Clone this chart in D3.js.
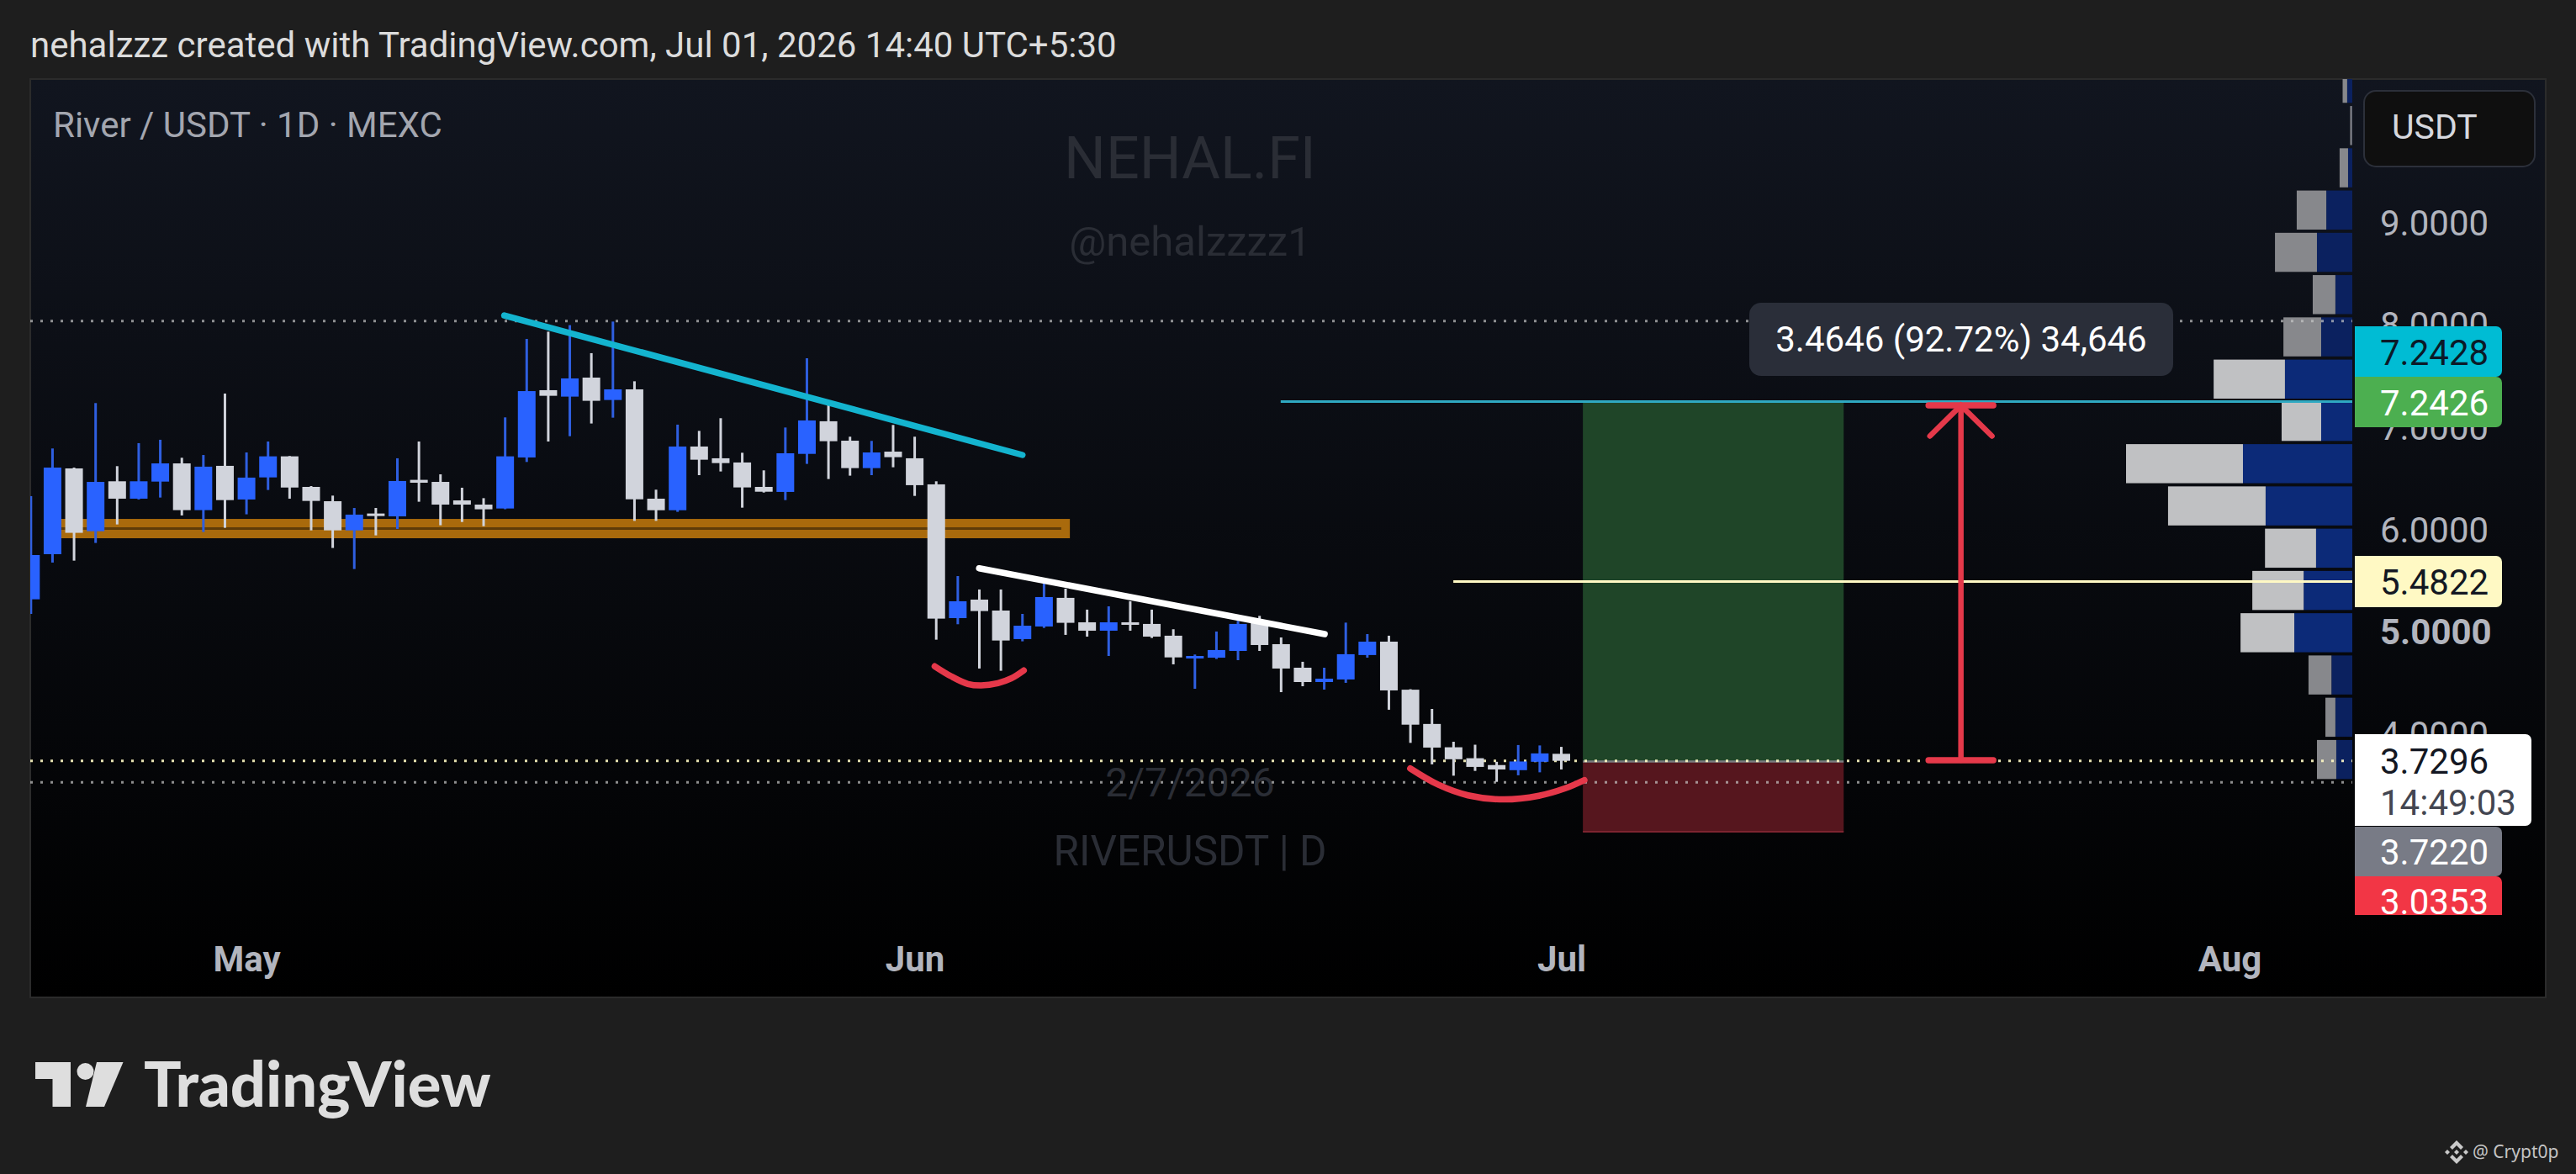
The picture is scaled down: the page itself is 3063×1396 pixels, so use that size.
<!DOCTYPE html>
<html><head><meta charset="utf-8">
<script src="https://cdnjs.cloudflare.com/ajax/libs/d3/7.8.5/d3.min.js"></script>
<style>html,body{margin:0;padding:0;background:#1e1e1e;overflow:hidden}svg{font-family:Roboto,sans-serif}</style>
</head><body><svg id="c" width="3063" height="1396"></svg>
<script>
// daily candles, index 0 = 21 Apr 2026
const opens=[5.309,5.750,6.589,5.975,6.463,6.293,6.460,6.638,6.181,6.614,6.285,6.501,6.707,6.408,6.268,5.983,6.148,6.120,6.477,6.457,6.276,6.235,6.197,6.696,7.354,7.291,7.477,7.258,7.362,6.293,6.180,6.803,6.688,6.647,6.408,6.359,6.731,7.050,6.860,6.592,6.753,6.688,6.433,5.125,5.306,5.199,4.920,5.043,5.323,5.084,5.002,5.084,5.068,4.953,4.730,4.738,4.804,5.076,4.870,4.640,4.500,4.525,4.764,4.895,4.425,4.090,3.862,3.755,3.688,3.638,3.720,3.798];
const highs=[6.318,6.784,6.597,7.228,6.611,6.836,6.869,6.693,6.720,7.321,6.745,6.852,6.710,6.416,6.323,6.202,6.202,6.688,6.852,6.531,6.400,6.298,7.088,7.855,7.926,7.990,7.716,8.025,7.441,6.381,7.017,6.956,7.080,6.742,6.570,6.989,7.666,7.217,6.899,6.858,7.014,6.899,6.463,5.536,5.405,5.405,5.166,5.476,5.413,5.208,5.240,5.290,5.208,5.016,4.769,4.994,5.098,5.147,4.936,4.698,4.640,5.081,4.969,4.953,4.430,4.237,3.916,3.887,3.720,3.884,3.880,3.866];
const lows=[5.166,5.668,5.687,5.860,6.041,6.285,6.304,6.129,5.967,6.008,6.140,6.378,6.293,5.983,5.811,5.605,5.934,5.997,6.263,6.033,6.065,6.024,6.190,6.652,6.852,6.904,7.028,7.085,6.076,6.076,6.164,6.523,6.559,6.205,6.353,6.279,6.633,6.485,6.518,6.523,6.600,6.320,4.914,5.065,4.632,4.610,4.898,5.029,4.961,4.944,4.755,5.002,4.931,4.673,4.434,4.725,4.714,4.804,4.401,4.459,4.426,4.492,4.738,4.229,3.905,3.695,3.584,3.631,3.524,3.588,3.617,3.645];
const closes=[5.742,6.597,5.959,6.457,6.293,6.463,6.638,6.181,6.606,6.279,6.499,6.707,6.402,6.271,5.983,6.137,6.123,6.466,6.449,6.235,6.235,6.189,6.707,7.345,7.299,7.469,7.250,7.362,6.287,6.180,6.803,6.674,6.641,6.403,6.361,6.737,7.058,6.855,6.592,6.745,6.699,6.425,5.120,5.290,5.194,4.906,5.051,5.331,5.079,5.002,5.084,5.062,4.944,4.741,4.755,4.813,5.068,4.862,4.632,4.500,4.533,4.772,4.895,4.418,4.083,3.859,3.745,3.670,3.645,3.723,3.802,3.7296];
// visible-range volume profile, bottom bin first
const volUp=[53,56,69,192,161,120,287,362,103,223,103,56,117,86,14,1,17];
const volDown=[64,33,76,178,170,169,323,387,131,236,125,75,139,98,28,6,15];
const volBinStart=3.52, volBinSize=0.4133, valueAreaBins=[3,4,5,6,7,8,9];
// axes
const priceTicks=[9,8,7,6,5,4];
const monthTicks=[[10,"May"],[41,"Jun"],[71,"Jul"],[102,"Aug"]];
// drawings, as [day index, price]
const cyanTrend=[[21.96,8.0855],[46.0,6.7204]];
const whiteTrend=[[43.99,5.6127],[60.02,4.9687]];
const redArcA=[[41.93,4.654],[42.70,4.555],[43.47,4.481],[44.09,4.467],[44.86,4.489],[45.48,4.535],[46.06,4.613]];
const redArcB=[[63.99,3.655],[65.30,3.495],[66.67,3.392],[68.31,3.352],[69.96,3.388],[71.19,3.461],[72.07,3.541]];
const zoneTop=6.095, zoneMid=6.001, zoneBottom=5.906, zoneFrom=1.35, zoneTo=48.2, zoneMidTo=47.8;
const rangeHigh=8.03, rangeLow=3.519, lastPrice=3.7296;
const targetPrice=7.2426, tpPrice=7.2428, entryPrice=5.4822, stopPrice=3.0353, basePrice=3.722;
const targetFrom=57.98, entryFrom=65.99, boxFrom=72.0, boxTo=84.1;
const arrowDay=89.54, arrowTop=7.205, arrowBottom=3.735;
const measureText="3.4646 (92.72%) 34,646";
const titleText="nehalzzz created with TradingView.com, Jul 01, 2026 14:40 UTC+5:30";
const legendText="River / USDT · 1D · MEXC";

const W=3063,H=1396,L=36,R=3027,T=94,B=1186,paneR=2797,paneB=1088;
const x=d3.scaleLinear().domain([0,102]).range([36.8,2651]);
const y=d3.scaleLinear().domain([7.2426,3.0353]).range([477.5,989.1]);
const vol=d3.scaleLinear().domain([0,749]).range([0,269]);
const svg=d3.select("#c");
const defs=svg.append("defs");
const g=defs.append("linearGradient").attr("id","bg").attr("x1",0).attr("x2",0).attr("y1",0).attr("y2",1);
g.append("stop").attr("offset",0).attr("stop-color","#11151f");
g.append("stop").attr("offset",1).attr("stop-color","#000000");
defs.append("clipPath").attr("id","pane").append("rect").attr("x",L).attr("y",T).attr("width",paneR-L).attr("height",paneB-T);
defs.append("clipPath").attr("id","lbl").append("rect").attr("x",paneR).attr("y",T).attr("width",R-paneR).attr("height",paneB-T);

svg.append("rect").attr("width",W).attr("height",H).attr("fill","#1e1e1e");
svg.append("text").attr("x",36).attr("y",53).attr("dy",".35em").attr("font-size",42).attr("fill","#dcdcdc").text(titleText);
svg.append("rect").attr("x",L).attr("y",T).attr("width",R-L).attr("height",B-T).attr("fill","url(#bg)").attr("stroke","#2b2b2b").attr("stroke-width",2);

// watermarks
const wm=[["NEHAL.FI",187,70],["@nehalzzzz1",287,49],["2/7/2026",930,48],["RIVERUSDT | D",1012,49.5]];
svg.append("g").selectAll("text").data(wm).join("text").attr("x",1415).attr("y",d=>d[1]).attr("dy",".35em")
 .attr("text-anchor","middle").attr("font-size",d=>d[2]).attr("fill","#2a2d35").text(d=>d[0]);
svg.append("text").attr("x",63).attr("y",148).attr("dy",".35em").attr("font-size",42).attr("fill","#a3a6af").text(legendText);

const pane=svg.append("g").attr("clip-path","url(#pane)");
const lineGen=d3.line().x(d=>x(d[0])).y(d=>y(d[1]));

// position box
pane.append("rect").attr("x",x(boxFrom)).attr("width",x(boxTo)-x(boxFrom)).attr("y",y(targetPrice)).attr("height",y(basePrice)-y(targetPrice)).attr("fill","#1f4528");
pane.append("rect").attr("x",x(boxFrom)).attr("width",x(boxTo)-x(boxFrom)).attr("y",y(basePrice)).attr("height",y(stopPrice)-y(basePrice)).attr("fill","#56161e");
pane.append("line").attr("x1",x(boxFrom)).attr("x2",x(boxTo)).attr("y1",y(basePrice)).attr("y2",y(basePrice)).attr("stroke","#7a7d80").attr("stroke-width",2.5);
pane.append("line").attr("x1",x(boxFrom)).attr("x2",x(boxTo)).attr("y1",y(stopPrice)).attr("y2",y(stopPrice)).attr("stroke","#7d2430").attr("stroke-width",2);

// volume profile
const vp=pane.append("g");
const rowTop=i=>y(volBinStart+(i+1)*volBinSize), rowH=i=>y(volBinStart+i*volBinSize)-rowTop(i)-3.8;
vp.selectAll("rect.u").data(volUp).join("rect").attr("class","u").attr("x",d=>paneR-vol(d)).attr("width",d=>vol(d))
 .attr("y",(d,i)=>rowTop(i)).attr("height",(d,i)=>rowH(i)).attr("fill",(d,i)=>valueAreaBins.includes(i)?"#0c2a78":"#0b215f");
vp.selectAll("rect.d").data(volDown).join("rect").attr("class","d").attr("x",(d,i)=>paneR-vol(volUp[i])-vol(d)).attr("width",d=>vol(d))
 .attr("y",(d,i)=>rowTop(i)).attr("height",(d,i)=>rowH(i)).attr("fill",(d,i)=>valueAreaBins.includes(i)?"#c0c1c3":"#87888c");

// dotted range and last-price lines
[[rangeHigh,"#c8c8c8",.7],[rangeLow,"#c8c8c8",.7],[lastPrice,"#fff9c4",.9]].forEach(([p,c,o])=>{
 pane.append("line").attr("x1",L).attr("x2",paneR).attr("y1",y(p)).attr("y2",y(p)).attr("stroke",c).attr("stroke-width",3).attr("stroke-dasharray","3 9").attr("opacity",o);
});

// zone
pane.append("rect").attr("x",x(zoneFrom)).attr("width",x(zoneTo)-x(zoneFrom)).attr("y",y(zoneTop)).attr("height",y(zoneBottom)-y(zoneTop)).attr("fill","#a96a0c");
pane.append("line").attr("x1",x(zoneFrom)).attr("x2",x(zoneMidTo)).attr("y1",y(zoneMid)).attr("y2",y(zoneMid)).attr("stroke","#5e3b08").attr("stroke-width",3);

// candles
const idx=d3.range(opens.length), col=i=>closes[i]>=opens[i]?"#2962ff":"#d1d4dc";
pane.append("g").selectAll("line").data(idx).join("line").attr("x1",i=>x(i)).attr("x2",i=>x(i)).attr("y1",i=>y(highs[i])).attr("y2",i=>y(lows[i]))
 .attr("stroke",i=>closes[i]>=opens[i]?"#2f5fe0":"#d1d4dc").attr("stroke-width",3);
pane.append("g").selectAll("rect").data(idx).join("rect").attr("x",i=>x(i)-10.5).attr("width",21)
 .attr("y",i=>y(Math.max(opens[i],closes[i]))).attr("height",i=>Math.max(3,Math.abs(y(opens[i])-y(closes[i])))).attr("fill",col);

// trend lines and arcs
pane.append("path").attr("d",lineGen(cyanTrend)).attr("stroke","#14b4cf").attr("stroke-width",7.5).attr("stroke-linecap","round").attr("fill","none");
pane.append("path").attr("d",lineGen(whiteTrend)).attr("stroke","#ffffff").attr("stroke-width",7.5).attr("stroke-linecap","round").attr("fill","none");
const arc=d3.line().x(d=>x(d[0])).y(d=>y(d[1])).curve(d3.curveCatmullRom);
[redArcA,redArcB].forEach(a=>pane.append("path").attr("d",arc(a)).attr("stroke","#e5384a").attr("stroke-width",7.5).attr("stroke-linecap","round").attr("fill","none"));

// target and entry lines
pane.append("line").attr("x1",x(targetFrom)).attr("x2",paneR).attr("y1",y(targetPrice)).attr("y2",y(targetPrice)).attr("stroke","#2fa9c2").attr("stroke-width",3);
pane.append("line").attr("x1",x(entryFrom)).attr("x2",paneR).attr("y1",y(entryPrice)).attr("y2",y(entryPrice)).attr("stroke","#fff9c4").attr("stroke-width",3);

// measure arrow
const ar=pane.append("g").attr("stroke","#e5394a").attr("fill","none").attr("stroke-linecap","round");
ar.append("line").attr("x1",x(arrowDay)).attr("x2",x(arrowDay)).attr("y1",y(arrowTop)).attr("y2",y(arrowBottom)).attr("stroke-width",6.5);
[arrowTop,arrowBottom].forEach(p=>ar.append("line").attr("x1",x(arrowDay-1.5)).attr("x2",x(arrowDay+1.5)).attr("y1",y(p)).attr("y2",y(p)).attr("stroke-width",7.5));
ar.append("path").attr("stroke-width",6.5).attr("d",lineGen([[arrowDay-1.44,arrowTop-0.30],[arrowDay,arrowTop],[arrowDay+1.44,arrowTop-0.30]]));
pane.append("rect").attr("x",2080).attr("y",360).attr("width",504).attr("height",87).attr("rx",14).attr("fill","#2a2e39");
pane.append("text").attr("x",2332).attr("y",403).attr("dy",".35em").attr("text-anchor","middle").attr("font-size",42).attr("fill","#ffffff").text(measureText);

// axes
const ya=d3.axisRight(y).tickValues(priceTicks).tickSize(0).tickPadding(33).tickFormat(d3.format(".4f"));
const yg=svg.append("g").attr("transform",`translate(${paneR},2)`).call(ya);
yg.select(".domain").remove();
yg.selectAll("text").attr("font-size",42).attr("fill","#b2b5be").attr("font-family","Roboto").attr("font-weight",d=>d===5?700:400);
const xa=d3.axisBottom(x).tickValues(monthTicks.map(d=>d[0])).tickSize(0).tickPadding(0).tickFormat(d=>monthTicks.find(m=>m[0]===d)[1]);
const xg=svg.append("g").attr("transform","translate(0,1140)").call(xa);
xg.select(".domain").remove();
xg.selectAll("text").attr("font-size",42).attr("fill","#b2b5be").attr("font-family","Roboto").attr("font-weight",700).attr("y",0).attr("dy",".35em");

// USDT selector
svg.append("rect").attr("x",2811).attr("y",108).attr("width",203).attr("height",90).attr("rx",14).attr("fill","#0f0f0f").attr("stroke","#2c303a").attr("stroke-width",2);
svg.append("text").attr("x",2844).attr("y",151).attr("dy",".35em").attr("font-size",41).attr("fill","#d6d8de").text("USDT");

// price labels
const labels=[[tpPrice,"#00bcd4","#0b1a28",388,448],[targetPrice,"#4caf50","#ffffff",448,508],[entryPrice,"#fff9c4","#131722",661,722],[basePrice,"#787b86","#ffffff",983,1042],[stopPrice,"#f23645","#ffffff",1042,1102]];
const lg=svg.append("g").attr("clip-path","url(#lbl)");
labels.forEach(([p,f,t,a,b])=>{
 lg.append("path").attr("fill",f).attr("d",`M2800,${a}H2968a7,7 0 0 1 7,7V${b-7}a7,7 0 0 1 -7,7H2800Z`);
 lg.append("text").attr("x",2830).attr("y",(a+b)/2+(p===stopPrice?-1:0)+1).attr("dy",".35em").attr("font-size",42).attr("fill",t).text(p.toFixed(4));
});
lg.append("path").attr("fill","#ffffff").attr("d","M2800,873H3003a7,7 0 0 1 7,7V975a7,7 0 0 1 -7,7H2800Z");
lg.append("text").attr("x",2830).attr("y",905).attr("dy",".35em").attr("font-size",42).attr("fill","#131722").text(lastPrice.toFixed(4));
lg.append("text").attr("x",2830).attr("y",954).attr("dy",".35em").attr("font-size",42).attr("fill","#434651").text("14:49:03");

// branding
const logo=svg.append("g").attr("fill","#dedede");
logo.append("path").attr("d","M42,1263H84V1316H62.5V1283H42Z");
logo.append("circle").attr("cx",101.5).attr("cy",1274).attr("r",10);
logo.append("path").attr("d","M115,1263H146.5L124,1316H102Z");
svg.append("text").attr("x",171).attr("y",1316).style("font-family","Lato").attr("font-weight",900).attr("font-size",74).attr("fill","#dedede").text("TradingView");

const bn=svg.append("g").attr("transform","translate(2921,1370)").attr("fill","#c9c9c9");
bn.append("path").attr("d","M0,-14L8,-6L5,-3L0,-8L-5,-3L-8,-6Z");
bn.append("path").attr("d","M0,14L8,6L5,3L0,8L-5,3L-8,6Z");
bn.append("path").attr("d","M0,-3L3,0L0,3L-3,0Z");
bn.append("path").attr("d","M-11,-3L-8,0L-11,3L-14,0Z");
bn.append("path").attr("d","M11,-3L14,0L11,3L8,0Z");
svg.append("text").attr("x",2940).attr("y",1370).attr("dy",".35em").style("font-family","'Noto Sans'").attr("font-size",21).attr("fill","#c4c4c4").text("@ Crypt0p");
</script></body></html>
